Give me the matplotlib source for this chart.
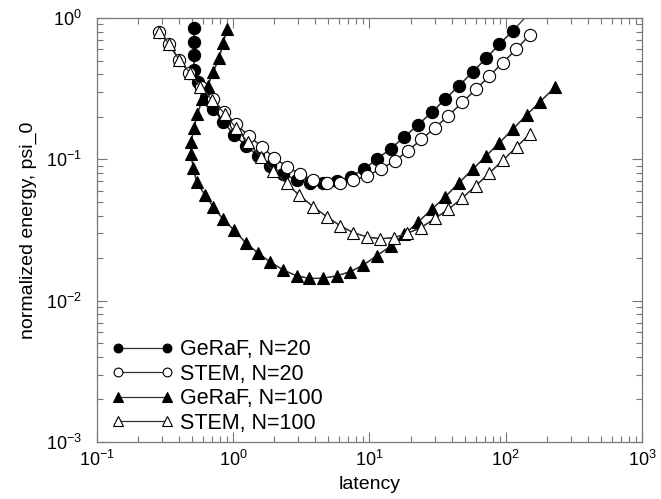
import matplotlib
matplotlib.use("Agg")
import matplotlib.pyplot as plt
import numpy as np
from matplotlib.ticker import LogLocator

plt.rcParams['font.family'] = ['Liberation Sans', 'DejaVu Sans']

# GeRaF, N=20 (filled circles); last point lies just above the plotted range
geraf20_x = [0.518, 0.513, 0.513, 0.518, 0.554, 0.628, 0.714, 0.845, 1.013, 1.234,
             1.527, 1.869, 2.317, 2.92, 3.66, 4.53, 5.74, 7.28, 9.12, 11.3,
             14.3, 18.0, 22.6, 28.6, 36.0, 45.4, 57.2, 71.6, 89.7, 112.5, 141.0]
geraf20_y = [0.846, 0.673, 0.547, 0.432, 0.354, 0.277, 0.2266, 0.1834, 0.1498, 0.1252,
             0.1054, 0.0901, 0.0791, 0.0714, 0.0683, 0.0676, 0.0699, 0.0753, 0.0854, 0.100,
             0.119, 0.144, 0.175, 0.215, 0.267, 0.332, 0.415, 0.519, 0.651, 0.813, 1.02]

# STEM, N=20 (open circles)
stem20_x = [0.2866, 0.3394, 0.4018, 0.4757, 0.58, 0.7063, 0.86, 1.048, 1.299, 1.618,
            2.0, 2.493, 3.09, 3.87, 4.85, 6.07, 7.6, 9.64, 12.08, 15.3,
            19.17, 24.0, 30.3, 37.9, 48.0, 60.5, 75.7, 95.0, 119.4, 150.7]
stem20_y = [0.80, 0.652, 0.504, 0.410, 0.323, 0.266, 0.215, 0.177, 0.1469, 0.1228,
            0.1021, 0.0886, 0.0787, 0.0714, 0.0685, 0.0683, 0.0711, 0.0766, 0.0854, 0.0973,
            0.115, 0.1385, 0.1674, 0.2035, 0.253, 0.313, 0.3886, 0.4827, 0.6004, 0.762]

# GeRaF, N=100 (filled triangles)
geraf100_x = [0.895, 0.845, 0.786, 0.714, 0.649, 0.593, 0.545, 0.515, 0.492, 0.490,
              0.509, 0.539, 0.620, 0.714, 0.845, 1.013, 1.234, 1.511, 1.861, 2.33,
              2.92, 3.62, 4.53, 5.74, 7.19, 9.0, 11.3, 14.3, 18.0, 22.6,
              28.6, 36.0, 45.4, 57.2, 71.6, 89.7, 112.5, 142.6, 178.4, 229.8]
geraf100_y = [0.832, 0.662, 0.519, 0.417, 0.330, 0.266, 0.208, 0.1674, 0.1319, 0.109,
              0.0864, 0.0694, 0.0559, 0.0462, 0.0376, 0.0316, 0.0257, 0.0218, 0.01884, 0.01647,
              0.0150, 0.01438, 0.01438, 0.0150, 0.0160, 0.01786, 0.0208, 0.0243, 0.0295, 0.0358,
              0.0443, 0.0544, 0.0683, 0.0850, 0.1055, 0.131, 0.163, 0.2068, 0.2557, 0.323]

# STEM, N=100 (open triangles)
stem100_x = [0.2866, 0.3378, 0.4018, 0.4812, 0.5701, 0.7008, 0.8628, 1.042, 1.284, 1.586,
             1.97, 2.47, 3.06, 3.87, 4.85, 6.07, 7.6, 9.55, 11.97, 15.13,
             18.95, 23.76, 30.25, 37.9, 47.7, 60.2, 75.4, 95.9, 120.3, 150.7]
stem100_y = [0.80, 0.655, 0.504, 0.408, 0.325, 0.263, 0.211, 0.168, 0.132, 0.104,
             0.0830, 0.0676, 0.0555, 0.0462, 0.0393, 0.0340, 0.0303, 0.0283, 0.0274, 0.0279,
             0.0300, 0.0328, 0.0382, 0.0443, 0.0530, 0.0650, 0.0796, 0.0989, 0.1228, 0.151]

labels = ["GeRaF, N=20", "STEM, N=20", "GeRaF, N=100", "STEM, N=100"]

fig = plt.figure(figsize=(6.61, 4.99), dpi=100)
ax = fig.add_axes([0.1467, 0.1142, 0.8246, 0.8497])

lc = '#333333'
series = [
    (geraf20_x, geraf20_y, 'o', 8.8, 'black'),
    (stem20_x, stem20_y, 'o', 8.8, 'white'),
    (geraf100_x, geraf100_y, '^', 9.3, 'black'),
    (stem100_x, stem100_y, '^', 9.3, 'white'),
]
for (xs, ys, mk, ms, fc), lab in zip(series, labels):
    xs = np.asarray(xs)
    ys = np.asarray(ys)
    inside = ys <= 1.0
    # connecting line (includes any point beyond the axis limits)
    ax.plot(xs, ys, '-', color=lc, lw=0.9, zorder=2)
    # markers only for points inside the plotted range
    ax.plot(xs[inside], ys[inside], '-', color=lc, lw=0.9, marker=mk, ms=ms,
            mfc=fc, mec='black', mew=0.8, label=lab, zorder=3)

ax.set_xscale('log')
ax.set_yscale('log')
ax.set_xlim(0.1, 1000)
ax.set_ylim(1e-3, 1)

ax.xaxis.set_major_locator(LogLocator(base=10, numticks=10))
ax.yaxis.set_major_locator(LogLocator(base=10, numticks=10))
ax.xaxis.set_minor_locator(LogLocator(base=10, subs=range(2, 10), numticks=100))
ax.yaxis.set_minor_locator(LogLocator(base=10, subs=range(2, 10), numticks=100))

for s in ax.spines.values():
    s.set_color('#777777')
    s.set_linewidth(0.9)
ax.tick_params(which='both', direction='in', top=True, right=True, colors='#777777',
               labelcolor='black', labelsize=13, width=0.8)
ax.tick_params(which='major', length=7)
ax.tick_params(which='minor', length=4)
ax.tick_params(axis='x', which='major', pad=6)
ax.tick_params(axis='y', which='major', pad=11)

ax.set_xlabel('latency', fontsize=14, labelpad=4)
ax.set_ylabel('normalized energy, psi_0', fontsize=14, labelpad=6)

leg = ax.legend(loc='lower left', bbox_to_anchor=(0.0275, 0.02), frameon=False,
                fontsize=15.5, numpoints=2, markerscale=0.72, handlelength=2.85,
                handletextpad=0.3, labelspacing=0.16, borderpad=0, borderaxespad=0)

fig.savefig('out.png', dpi=100)
